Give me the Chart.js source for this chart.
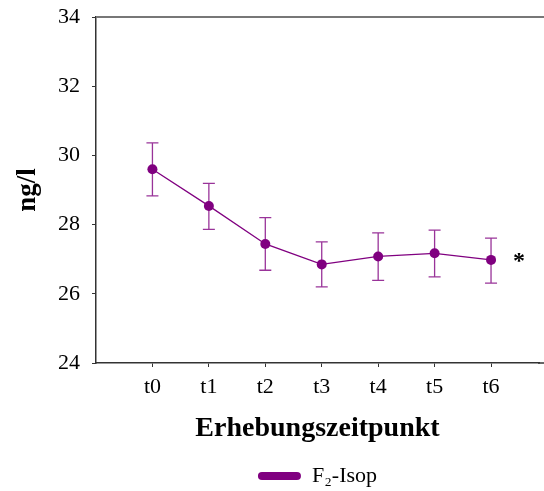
<!DOCTYPE html>
<html>
<head>
<meta charset="utf-8">
<script src="https://cdn.jsdelivr.net/npm/chart.js@4"></script>
<style>
  html, body { margin: 0; padding: 0; background: #ffffff; }
  #wrap { width: 544px; height: 491px; }
</style>
</head>
<body>
<div id="wrap"><canvas id="c" width="544" height="491"></canvas></div>
<script>
// ---- data ----
const categories = ['t0', 't1', 't2', 't3', 't4', 't5', 't6'];
const means      = [29.60, 28.54, 27.44, 26.85, 27.08, 27.17, 26.98];
const upper      = [30.36, 29.19, 28.20, 27.50, 27.76, 27.84, 27.61];
const lower      = [28.83, 27.86, 26.68, 26.20, 26.39, 26.49, 26.31];
const significance = ['', '', '', '', '', '', '*'];
const yTicks     = [24, 26, 28, 30, 32, 34];
const seriesName = 'F\u2082-Isop';
const xTitle = 'Erhebungszeitpunkt';
const yTitle = 'ng/l';

const PURPLE = '#800080';
const SERIF = '"Liberation Serif", "Times New Roman", serif';

const points = categories.map((c, i) => ({ x: i, y: means[i] }));

const errorBars = {
  id: 'errorBars',
  afterDatasetsDraw(chart) {
    const { ctx, scales: { x, y } } = chart;
    ctx.save();
    ctx.strokeStyle = 'rgba(128,0,128,0.8)';
    ctx.lineWidth = 1.3;
    const cap = 6;
    categories.forEach((c, i) => {
      const px = x.getPixelForValue(i);
      const yt = y.getPixelForValue(upper[i]);
      const yb = y.getPixelForValue(lower[i]);
      ctx.beginPath();
      ctx.moveTo(px, yt); ctx.lineTo(px, yb);
      ctx.moveTo(px - cap, yt); ctx.lineTo(px + cap, yt);
      ctx.moveTo(px - cap, yb); ctx.lineTo(px + cap, yb);
      ctx.stroke();
    });
    // significance marks
    ctx.fillStyle = '#000';
    ctx.font = 'bold 24px ' + SERIF;
    ctx.textAlign = 'center';
    ctx.textBaseline = 'middle';
    significance.forEach((s, i) => {
      if (!s) return;
      ctx.fillText(s, x.getPixelForValue(i) + 28, y.getPixelForValue(means[i]) + 2);
    });
    ctx.restore();
  },
  beforeDatasetsDraw(chart) {
    const { ctx, chartArea } = chart;
    ctx.save();
    ctx.strokeStyle = '#777';
    ctx.lineWidth = 2;
    ctx.beginPath();
    ctx.moveTo(chartArea.left, chartArea.top);
    ctx.lineTo(chart.width, chartArea.top);
    ctx.stroke();
    // continue the bottom axis line to the canvas edge, as in the reference
    ctx.strokeStyle = '#333';
    ctx.lineWidth = 1.5;
    ctx.beginPath();
    ctx.moveTo(chartArea.right - 1, chartArea.bottom);
    ctx.lineTo(chart.width, chartArea.bottom);
    ctx.stroke();
    ctx.restore();
  }
};

new Chart(document.getElementById('c'), {
  type: 'line',
  data: {
    datasets: [{
      label: seriesName,
      data: points,
      borderColor: PURPLE,
      backgroundColor: PURPLE,
      borderWidth: 1.3,
      pointRadius: 5,
      pointBackgroundColor: PURPLE,
      pointBorderColor: PURPLE,
      pointBorderWidth: 0,
      tension: 0
    }]
  },
  options: {
    responsive: false,
    animation: false,
    events: [],
    layout: { padding: { top: 17, left: 0, right: 0, bottom: 0 } },
    scales: {
      x: {
        type: 'linear',
        min: -1,
        max: 6.85,
        afterFit(scale) {
          scale.height = 102;
          scale.paddingLeft = 0; scale.paddingRight = 0;
          scale.paddingTop = 0; scale.paddingBottom = 0;
        },
        afterBuildTicks(scale) { scale.ticks = categories.map((c, i) => ({ value: i })); },
        ticks: {
          callback: (v) => categories[v] ?? '',
          font: { family: SERIF, size: 22 },
          color: '#000',
          padding: 7,
          maxRotation: 0,
          autoSkip: false
        },
        grid: { display: true, drawOnChartArea: false, tickLength: 4, color: '#333', lineWidth: 1 },
        border: { display: true, color: '#333', width: 1.5 },
        title: {
          display: true,
          text: xTitle,
          font: { family: SERIF, size: 28, weight: 'bold' },
          color: '#000',
          padding: { top: 0, bottom: 19 }
        }
      },
      y: {
        min: 24,
        max: 34,
        afterFit(scale) {
          scale.width = 96;
          scale.paddingLeft = 0; scale.paddingRight = 0;
          scale.paddingTop = 0; scale.paddingBottom = 0;
        },
        afterBuildTicks(scale) { scale.ticks = yTicks.map(v => ({ value: v })); },
        ticks: {
          font: { family: SERIF, size: 22 },
          color: '#000',
          padding: 12
        },
        grid: { display: true, drawOnChartArea: false, tickLength: 4, color: '#333', lineWidth: 1 },
        border: { display: true, color: '#333', width: 1.5 },
        title: {
          display: true,
          text: yTitle,
          font: { family: SERIF, size: 27, weight: 'bold' },
          color: '#000',
          padding: { top: 12, bottom: 0 }
        }
      }
    },
    plugins: {
      tooltip: { enabled: false },
      legend: {
        position: 'bottom',
        fullSize: false,
        maxHeight: 26,
        labels: {
          font: { family: SERIF, size: 22 },
          color: '#000',
          boxWidth: 43,
          boxHeight: 8,
          padding: 0,
          useBorderRadius: true,
          borderRadius: 4,
          generateLabels(chart) {
            return chart.data.datasets.map((ds, i) => ({
              text: ds.label,
              fillStyle: PURPLE,
              strokeStyle: PURPLE,
              lineWidth: 0,
              borderRadius: 4,
              hidden: false,
              datasetIndex: i,
              fontColor: '#000'
            }));
          }
        }
      }
    }
  },
  plugins: [errorBars]
});
</script>
</body>
</html>
